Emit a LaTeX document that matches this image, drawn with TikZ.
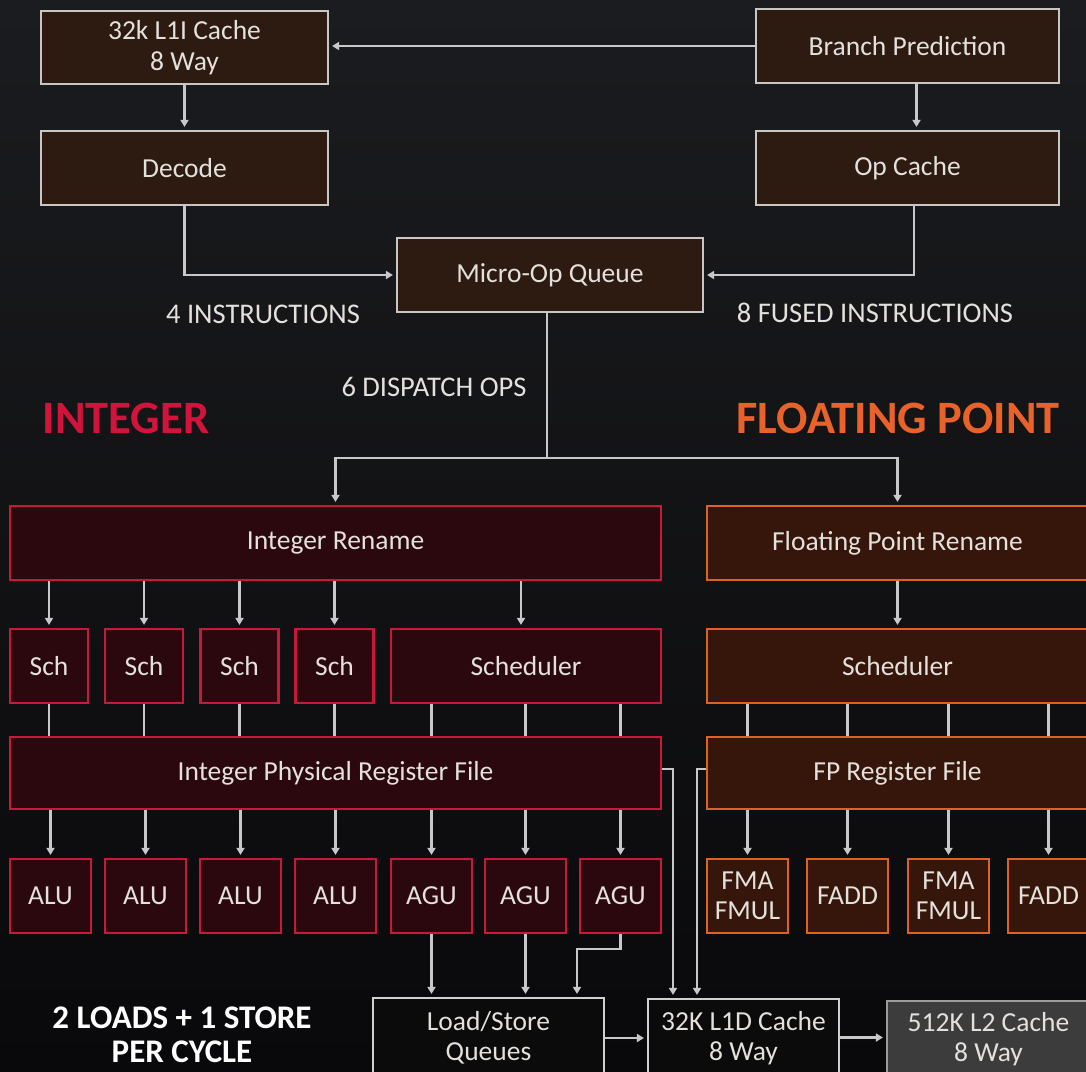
\documentclass[tikz,border=0pt]{standalone}
\usepackage{fontspec}
\setmainfont{Carlito}
\usetikzlibrary{arrows.meta}
\definecolor{bgtop}{HTML}{1B1C1F}
\definecolor{bgbot}{HTML}{09090B}
\definecolor{linegrey}{HTML}{C8C8C8}
\definecolor{txt}{HTML}{E4E0DC}
\definecolor{brownfill}{HTML}{2D1A11}
\definecolor{brownline}{HTML}{C9C6C4}
\definecolor{intfill}{HTML}{2A080E}
\definecolor{intline}{HTML}{C8183C}
\definecolor{fpfill}{HTML}{36160A}
\definecolor{fpline}{HTML}{DE6220}
\definecolor{memfill}{HTML}{0B0B0B}
\definecolor{memline}{HTML}{D0D0D0}
\definecolor{ltwofill}{HTML}{3C3C3C}
\definecolor{ltwoline}{HTML}{9C9C9C}
\definecolor{intred}{HTML}{D2143C}
\definecolor{fporange}{HTML}{E8622A}
\begin{document}
\begin{tikzpicture}[x=1pt,y=-1pt,
  box/.style={draw, rectangle, inner sep=0pt, text=txt, align=center,
     font=\fontsize{27.5}{31}\selectfont, line width=2.2pt},
  topbox/.style={box, fill=brownfill, draw=brownline},
  intbox/.style={box, fill=intfill, draw=intline},
  fpbox/.style={box, fill=fpfill, draw=fpline},
  membox/.style={box, fill=memfill, draw=memline},
  ltwobox/.style={box, fill=ltwofill, draw=ltwoline},
  twoline/.style={font=\fontsize{27.5}{30}\selectfont},
  conn/.style={draw=linegrey, line width=2.6pt},
  arr/.style={conn, -{Triangle[width=8pt,length=7pt]}, shorten >=3pt},
  lbl/.style={text=txt, font=\fontsize{28.5}{31}\selectfont, inner sep=0pt},
  head/.style={font=\fontsize{46.4}{50}\selectfont\bfseries, inner sep=0pt}]
\useasboundingbox (0,0) rectangle (1086,1071);
\shade[top color=bgtop, bottom color=bgbot] (0,0) rectangle (1086,1071);

% front end
\node[topbox, minimum width=287pt, minimum height=73pt] (l1i) at (184.5,47.5) {32k L1I Cache\\8 Way};
\node[topbox, minimum width=303pt, minimum height=74pt] (bp) at (907.5,46) {Branch Prediction};
\node[topbox, minimum width=287pt, minimum height=74pt] (dec) at (184.5,168) {Decode};
\node[topbox, minimum width=303pt, minimum height=74pt] (opc) at (907.5,168) {Op Cache};
\node[topbox, minimum width=306pt, minimum height=74pt] (moq) at (550,275) {Micro-Op Queue};

\node[lbl] (l4) at (263,314) {4 INSTRUCTIONS};
\node[lbl] (l8) at (875,313) {8 FUSED INSTRUCTIONS};
\node[lbl] (l6) at (434,387) {6 DISPATCH OPS};
\node[head, text=intred] (hint) at (126,418) {INTEGER};
\node[head, text=fporange] (hfp) at (898,418) {FLOATING POINT};

% integer side
\node[intbox, minimum width=651pt, minimum height=74pt] (irn) at (335.5,543) {Integer Rename};
\node[intbox, minimum width=78pt, minimum height=74pt] (sch1) at (49,666) {Sch};
\node[intbox, minimum width=78pt, minimum height=74pt] (sch2) at (144,666) {Sch};
\node[intbox, minimum width=78pt, minimum height=74pt] (sch3) at (239.5,666) {Sch};
\node[intbox, minimum width=78pt, minimum height=74pt] (sch4) at (334.5,666) {Sch};
\node[intbox, minimum width=270pt, minimum height=74pt] (isc) at (526,666) {Scheduler};
\node[intbox, minimum width=651pt, minimum height=72pt] (prf) at (335.5,773) {Integer Physical Register File};
\node[intbox, minimum width=81pt, minimum height=74pt] (alu1) at (50.5,896) {ALU};
\node[intbox, minimum width=81pt, minimum height=74pt] (alu2) at (145.5,896) {ALU};
\node[intbox, minimum width=81pt, minimum height=74pt] (alu3) at (240.5,896) {ALU};
\node[intbox, minimum width=81pt, minimum height=74pt] (alu4) at (335.5,896) {ALU};
\node[intbox, minimum width=81pt, minimum height=74pt] (agu1) at (431.5,896) {AGU};
\node[intbox, minimum width=81pt, minimum height=74pt] (agu2) at (525.5,896) {AGU};
\node[intbox, minimum width=81pt, minimum height=74pt] (agu3) at (620.5,896) {AGU};

% floating point side
\node[fpbox, minimum width=381pt, minimum height=74pt] (frn) at (897.5,543) {Floating Point Rename};
\node[fpbox, minimum width=381pt, minimum height=74pt] (fsc) at (897.5,666) {Scheduler};
\node[fpbox, minimum width=381pt, minimum height=72pt] (frf) at (897.5,773) {FP Register File};
\node[fpbox, twoline, minimum width=81pt, minimum height=74pt] (fma1) at (747.5,896) {FMA\\FMUL};
\node[fpbox, minimum width=81pt, minimum height=74pt] (fadd1) at (847.5,896) {FADD};
\node[fpbox, twoline, minimum width=81pt, minimum height=74pt] (fma2) at (948.5,896) {FMA\\FMUL};
\node[fpbox, minimum width=81pt, minimum height=74pt] (fadd2) at (1048.5,896) {FADD};

% memory
\node[membox, twoline, minimum width=231pt, minimum height=80pt] (lsq) at (488.5,1038) {Load/Store\\Queues};
\node[membox, twoline, minimum width=191pt, minimum height=79pt] (l1d) at (743.5,1038.5) {32K L1D Cache\\8 Way};
\node[ltwobox, twoline, minimum width=203pt, minimum height=77pt] (l2) at (988.5,1039.5) {512K L2 Cache\\8 Way};

\node[font=\fontsize{33}{34}\selectfont\bfseries, text=white, align=center, inner sep=0pt] (ls) at (182,1035) {2 LOADS + 1 STORE\\PER CYCLE};

% front-end connectors
\draw[arr] (bp.west) -- (bp.west -| l1i.east);
\draw[arr] (l1i.south) -- (dec.north);
\draw[arr] ([xshift=9pt]bp.south) -- ([xshift=9pt]opc.north);
\draw[arr] (dec.south) |- (moq.west);
\draw[arr] ([xshift=6.5pt]opc.south) |- (moq.east);

% dispatch
\coordinate (dsp) at (547,458);
\draw[conn] ([xshift=-3pt]moq.south) -- (dsp);
\draw[arr] (dsp) -| (irn.north);
\draw[arr] (dsp) -| (frn.north);

% rename -> schedulers
\foreach \s in {sch1,sch2,sch3,sch4}{
  \draw[arr] (\s.north |- irn.south) -- (\s.north);
}
\draw[arr] ([xshift=-5pt]isc.north |- irn.south) -- ([xshift=-5pt]isc.north);
\draw[arr] (frn.south) -- (fsc.north);

% schedulers -> register files
\foreach \s in {sch1,sch2,sch3,sch4}{
  \draw[conn] (\s.south) -- (\s.south |- prf.north);
}
\foreach \u in {agu1,agu2,agu3}{
  \draw[conn] (\u.north |- isc.south) -- (\u.north |- prf.north);
}
\foreach \u in {fma1,fadd1,fma2,fadd2}{
  \draw[conn] (\u.north |- fsc.south) -- (\u.north |- frf.north);
  \draw[arr] (\u.north |- frf.south) -- (\u.north);
}

% register file -> units
\foreach \u in {alu1,alu2,alu3,alu4,agu1,agu2,agu3}{
  \draw[arr] (\u.north |- prf.south) -- (\u.north);
}

% AGU -> load/store
\draw[arr] (agu1.south) -- (agu1.south |- lsq.north);
\draw[arr] (agu2.south) -- (agu2.south |- lsq.north);
\coordinate (k3) at (577,949);
\draw[arr] (agu3.south) |- (k3) -- (k3 |- lsq.north);

% register files -> L1D
\coordinate (m1) at (673,769);
\coordinate (m2) at (697,769);
\draw[arr] ([yshift=4pt]prf.east) -- (m1) -- (m1 |- l1d.north);
\draw[arr] ([yshift=4pt]frf.west) -- (m2) -- (m2 |- l1d.north);

% memory chain
\draw[arr] (lsq.east) -- (lsq.east -| l1d.west);
\draw[arr] ([yshift=1pt]l1d.east) -- ([yshift=1pt]l1d.east -| l2.west);
\end{tikzpicture}
\end{document}
